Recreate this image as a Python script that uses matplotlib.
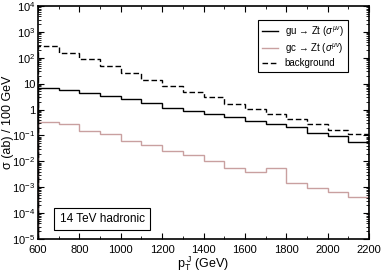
import numpy as np
import matplotlib
matplotlib.use('Agg')
import matplotlib.pyplot as plt
from matplotlib.ticker import FixedLocator, FixedFormatter, MultipleLocator, LogLocator, NullFormatter

plt.rcParams['font.family'] = ['Liberation Sans', 'DejaVu Sans']
plt.rcParams['mathtext.fontset'] = 'custom'
plt.rcParams['mathtext.rm'] = 'Liberation Sans'
plt.rcParams['mathtext.it'] = 'Liberation Sans:italic'
plt.rcParams['mathtext.bf'] = 'Liberation Sans:bold'

# ── Data (bin edges in GeV, cross sections in ab / 100 GeV) ───────────────────

edges = np.arange(600, 2201, 100)

gu_zt = [7.0, 5.7, 4.5, 3.2, 2.5, 1.8, 1.18, 0.89, 0.68, 0.50,
         0.35, 0.28, 0.21, 0.13, 0.098, 0.058]

gc_zt = [0.34, 0.27, 0.15, 0.11, 0.062, 0.042, 0.0245, 0.0173, 0.010, 0.0057,
         0.0038, 0.0054, 0.0015, 0.00096, 0.00065, 0.00041]

background = [286, 148, 87, 48, 25, 13.8, 8.2, 4.7, 3.0, 1.69,
              1.09, 0.68, 0.45, 0.27, 0.16, 0.114]

y_ticks = [1e-5, 1e-4, 1e-3, 1e-2, 1e-1, 1, 10, 1e2, 1e3, 1e4]
y_tick_labels = [r'10$^{-5}$', r'10$^{-4}$', r'10$^{-3}$', r'10$^{-2}$', r'10$^{-1}$',
                 '1', '10', r'10$^{2}$', r'10$^{3}$', r'10$^{4}$']

# ── Plot ─────────────────────────────────────────────────────────────────────

fig = plt.figure(figsize=(3.82, 2.73), dpi=100)
ax = fig.add_axes([0.0995, 0.1245, 0.8665, 0.8535])

ax.stairs(gu_zt, edges, color='black', linewidth=1.0,
          label=r'gu → Zt ($\sigma^{\mu\nu}$)')
ax.stairs(gc_zt, edges, color='#c9a0a0', linewidth=1.0,
          label=r'gc → Zt ($\sigma^{\mu\nu}$)')
ax.stairs(background, edges, color='black', linewidth=1.0, linestyle=(0, (4, 2)),
          label='background')

ax.set_yscale('log')
ax.set_xlim(600, 2200)
ax.set_ylim(1e-5, 1e4)

ax.xaxis.set_major_locator(MultipleLocator(200))
ax.xaxis.set_minor_locator(MultipleLocator(100))
ax.yaxis.set_major_locator(FixedLocator(y_ticks))
ax.yaxis.set_major_formatter(FixedFormatter(y_tick_labels))
ax.yaxis.set_minor_locator(LogLocator(base=10, subs=np.arange(2, 10), numticks=20))
ax.yaxis.set_minor_formatter(NullFormatter())

ax.tick_params(which='both', direction='in', top=True, right=True, labelsize=8)
ax.tick_params(axis='x', pad=4)
ax.tick_params(axis='y', pad=2)
ax.tick_params(which='major', length=4, width=0.8)
ax.tick_params(which='minor', length=2, width=0.6)
for sp in ax.spines.values():
    sp.set_linewidth(1.2)

ax.set_xlabel(r'p$_\mathrm{T}^{\ \mathrm{J}}$ (GeV)', fontsize=9, labelpad=0)
ax.set_ylabel('σ (ab) / 100 GeV', fontsize=9, va='center')
ax.yaxis.set_label_coords(-0.092, 0.5)

leg = ax.legend(loc='upper right', bbox_to_anchor=(0.937, 0.94), borderaxespad=0,
                fontsize=7, frameon=True, fancybox=False, edgecolor='black',
                framealpha=1, handlelength=1.6, borderpad=0.45, labelspacing=0.25,
                handletextpad=0.7)
leg.get_frame().set_linewidth(0.8)

ax.text(0.065, 0.06, '14 TeV hadronic', transform=ax.transAxes, fontsize=8.5,
        ha='left', va='bottom',
        bbox=dict(boxstyle='square,pad=0.45', facecolor='white', edgecolor='black',
                  linewidth=0.8))

fig.savefig('out.png', dpi=100)
